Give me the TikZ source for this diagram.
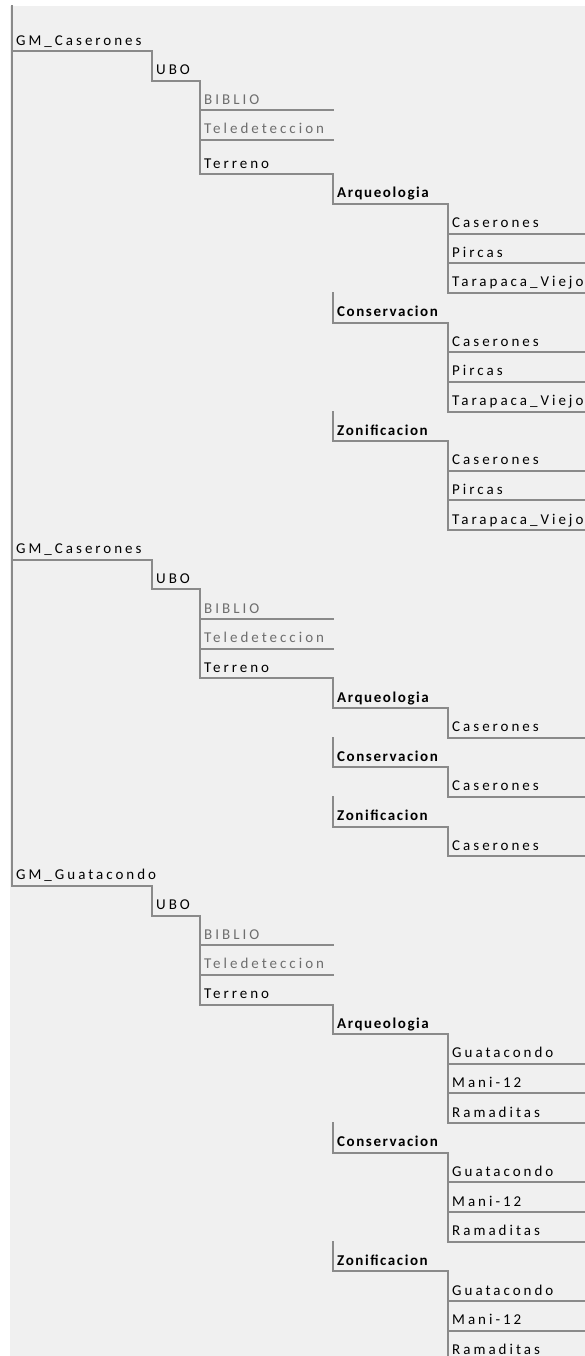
\documentclass[tikz,border=0pt]{standalone}
\usepackage{fontspec}
\setmainfont{Carlito}
\newfontfamily\treenfont[LetterSpace=20]{Carlito}
\newfontfamily\treebfont[LetterSpace=10.5]{Carlito}
\definecolor{bgc}{RGB}{240,240,240}
\definecolor{lnc}{RGB}{138,138,138}
\definecolor{dimtxt}{RGB}{110,110,110}
\tikzset{
  tline/.style={draw=lnc, line width=2pt, line cap=rect, line join=miter},
  ntxt/.style={font=\treenfont\fontsize{15}{18}\selectfont, text=black, inner sep=0pt, anchor=base west},
  dtxt/.style={ntxt, text=dimtxt},
  btxt/.style={font=\treebfont\bfseries\fontsize{15}{18}\selectfont, text=black, inner sep=0pt, anchor=base west},
}
% #1 name, #2 x of left border, #3 x where underline ends, #4 row, #5 style, #6 text
\newcommand\titem[6]{%
  \pgfmathsetmacro\tiy{rowy(#4)}%
  \pgfmathsetmacro\tiyt{rowy(#4-1)}%
  \coordinate (#1-top) at (#2,\tiyt);
  \coordinate (#1-c) at (#2,\tiy);
  \coordinate (#1-end) at (#3,\tiy);
  \draw[tline] (#1-top) -- (#1-c) -- (#1-end);
  \node[#5] (#1) at ([xshift=4pt,yshift=6pt]#1-c) {#6};
}
\begin{document}
\begin{tikzpicture}[x=1pt,y=-1pt,
  declare function={rowy(\k)=(\k<4)*(51.5+29.5*\k)+(\k>=4)*(174.3+29.65*(\k-4));}]
\useasboundingbox (0,0) rectangle (585,1356);
\clip (0,0) rectangle (585,1356);
\fill[white] (0,0) rectangle (585,1356);
\fill[bgc] (10,6) rectangle (585,1356);
\coordinate (root-top) at (12,6);
% ---- section 1
\titem{ga}{12}{152}{0}{ntxt}{GM\_Caserones}
\titem{gau}{152}{200}{1}{ntxt}{UBO}
\titem{gab}{200}{333}{2}{dtxt}{BIBLIO}
\titem{gat}{200}{333}{3}{dtxt}{Teledeteccion}
\titem{gar}{200}{333}{4}{ntxt}{Terreno}
\titem{gaa}{333}{448}{5}{btxt}{Arqueologia}
\titem{gaa1}{448}{585}{6}{ntxt}{Caserones}
\titem{gaa2}{448}{585}{7}{ntxt}{Pircas}
\titem{gaa3}{448}{585}{8}{ntxt}{Tarapaca\_Viejo}
\titem{gac}{333}{448}{9}{btxt}{Conservacion}
\titem{gac1}{448}{585}{10}{ntxt}{Caserones}
\titem{gac2}{448}{585}{11}{ntxt}{Pircas}
\titem{gac3}{448}{585}{12}{ntxt}{Tarapaca\_Viejo}
\titem{gaz}{333}{448}{13}{btxt}{Zonificacion}
\titem{gaz1}{448}{585}{14}{ntxt}{Caserones}
\titem{gaz2}{448}{585}{15}{ntxt}{Pircas}
\titem{gaz3}{448}{585}{16}{ntxt}{Tarapaca\_Viejo}
% ---- section 2
\titem{gb}{12}{152}{17}{ntxt}{GM\_Caserones}
\titem{gbu}{152}{200}{18}{ntxt}{UBO}
\titem{gbb}{200}{333}{19}{dtxt}{BIBLIO}
\titem{gbt}{200}{333}{20}{dtxt}{Teledeteccion}
\titem{gbr}{200}{333}{21}{ntxt}{Terreno}
\titem{gba}{333}{448}{22}{btxt}{Arqueologia}
\titem{gba1}{448}{585}{23}{ntxt}{Caserones}
\titem{gbc}{333}{448}{24}{btxt}{Conservacion}
\titem{gbc1}{448}{585}{25}{ntxt}{Caserones}
\titem{gbz}{333}{448}{26}{btxt}{Zonificacion}
\titem{gbz1}{448}{585}{27}{ntxt}{Caserones}
% ---- section 3
\titem{gc}{12}{152}{28}{ntxt}{GM\_Guatacondo}
\titem{gcu}{152}{200}{29}{ntxt}{UBO}
\titem{gcb}{200}{333}{30}{dtxt}{BIBLIO}
\titem{gct}{200}{333}{31}{dtxt}{Teledeteccion}
\titem{gcr}{200}{333}{32}{ntxt}{Terreno}
\titem{gca}{333}{448}{33}{btxt}{Arqueologia}
\titem{gca1}{448}{585}{34}{ntxt}{Guatacondo}
\titem{gca2}{448}{585}{35}{ntxt}{Mani-12}
\titem{gca3}{448}{585}{36}{ntxt}{Ramaditas}
\titem{gcc}{333}{448}{37}{btxt}{Conservacion}
\titem{gcc1}{448}{585}{38}{ntxt}{Guatacondo}
\titem{gcc2}{448}{585}{39}{ntxt}{Mani-12}
\titem{gcc3}{448}{585}{40}{ntxt}{Ramaditas}
\titem{gcz}{333}{448}{41}{btxt}{Zonificacion}
\titem{gcz1}{448}{585}{42}{ntxt}{Guatacondo}
\titem{gcz2}{448}{585}{43}{ntxt}{Mani-12}
\titem{gcz3}{448}{585}{44}{ntxt}{Ramaditas}
% ---- root border line
\draw[tline] (root-top) -- (gc-c);
\end{tikzpicture}
\end{document}
